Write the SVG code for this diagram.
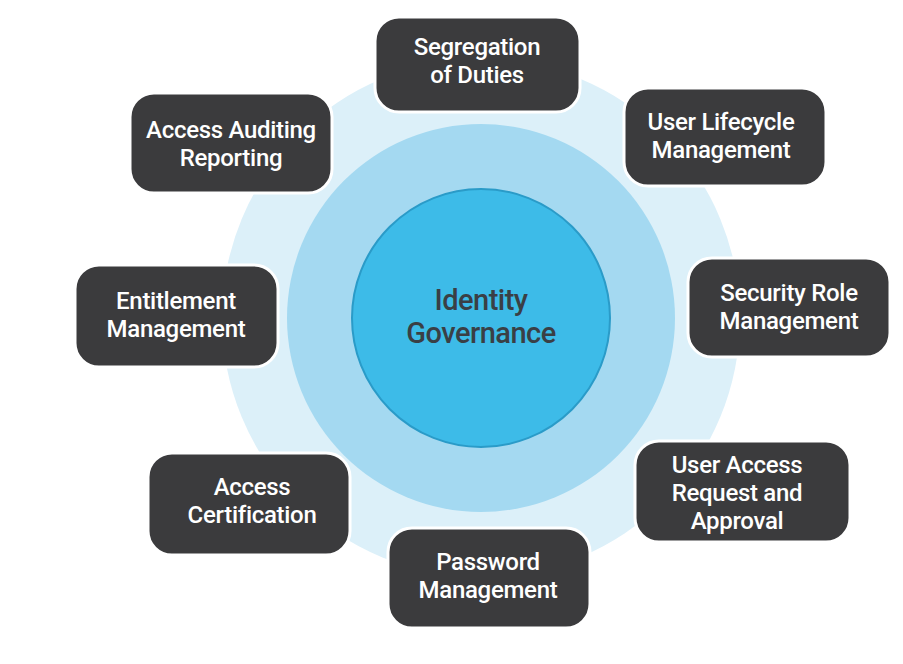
<svg xmlns="http://www.w3.org/2000/svg" width="903" height="664" viewBox="0 0 903 664">
<style>
.b{fill:#3b3b3d;stroke:#ffffff;stroke-width:3}
.t{fill:#ffffff;font-family:Roboto,"Liberation Sans",sans-serif;font-size:24px;font-weight:500;text-anchor:middle;letter-spacing:-0.3px}
.c{fill:#3a3f45;font-family:Roboto,"Liberation Sans",sans-serif;font-size:29px;font-weight:500;text-anchor:middle;letter-spacing:-0.5px}
</style>
<rect width="903" height="664" fill="#fff"/>
<g id="rings">
<circle cx="481" cy="318" r="259" fill="#dcf0f9"/>
<circle cx="481" cy="318" r="194" fill="#a4d9f1"/>
</g>
<g id="center">
<circle cx="481" cy="318" r="129" fill="#3dbbe8" stroke="#2a9bc8" stroke-width="2"/>
<text class="c" x="481" y="310">Identity</text>
<text class="c" x="481" y="343">Governance</text>
</g>
<g id="connectors"></g>
<g id="n1"><rect class="b" x="375" y="17" width="205" height="95" rx="24"/><text class="t" x="477" y="55">Segregation</text><text class="t" x="477" y="83">of Duties</text></g>
<g id="n2"><rect class="b" x="130" y="93" width="202" height="100" rx="24"/><text class="t" x="231" y="138">Access Auditing</text><text class="t" x="231" y="166">Reporting</text></g>
<g id="n3"><rect class="b" x="624" y="88" width="202" height="98" rx="24"/><text class="t" x="721" y="130">User Lifecycle</text><text class="t" x="721" y="158">Management</text></g>
<g id="n4"><rect class="b" x="75" y="265" width="203" height="102" rx="24"/><text class="t" x="176" y="309">Entitlement</text><text class="t" x="176" y="337">Management</text></g>
<g id="n5"><rect class="b" x="688" y="258" width="202" height="99" rx="24"/><text class="t" x="789" y="301">Security Role</text><text class="t" x="789" y="329">Management</text></g>
<g id="n6"><rect class="b" x="148" y="453" width="202" height="102" rx="24"/><text class="t" x="252" y="495">Access</text><text class="t" x="252" y="523">Certification</text></g>
<g id="n7"><rect class="b" x="635" y="441" width="215" height="101" rx="24"/><text class="t" x="737" y="473">User Access</text><text class="t" x="737" y="501">Request and</text><text class="t" x="737" y="529">Approval</text></g>
<g id="n8"><rect class="b" x="388" y="528" width="202" height="100" rx="24"/><text class="t" x="488" y="570">Password</text><text class="t" x="488" y="598">Management</text></g>
</svg>
